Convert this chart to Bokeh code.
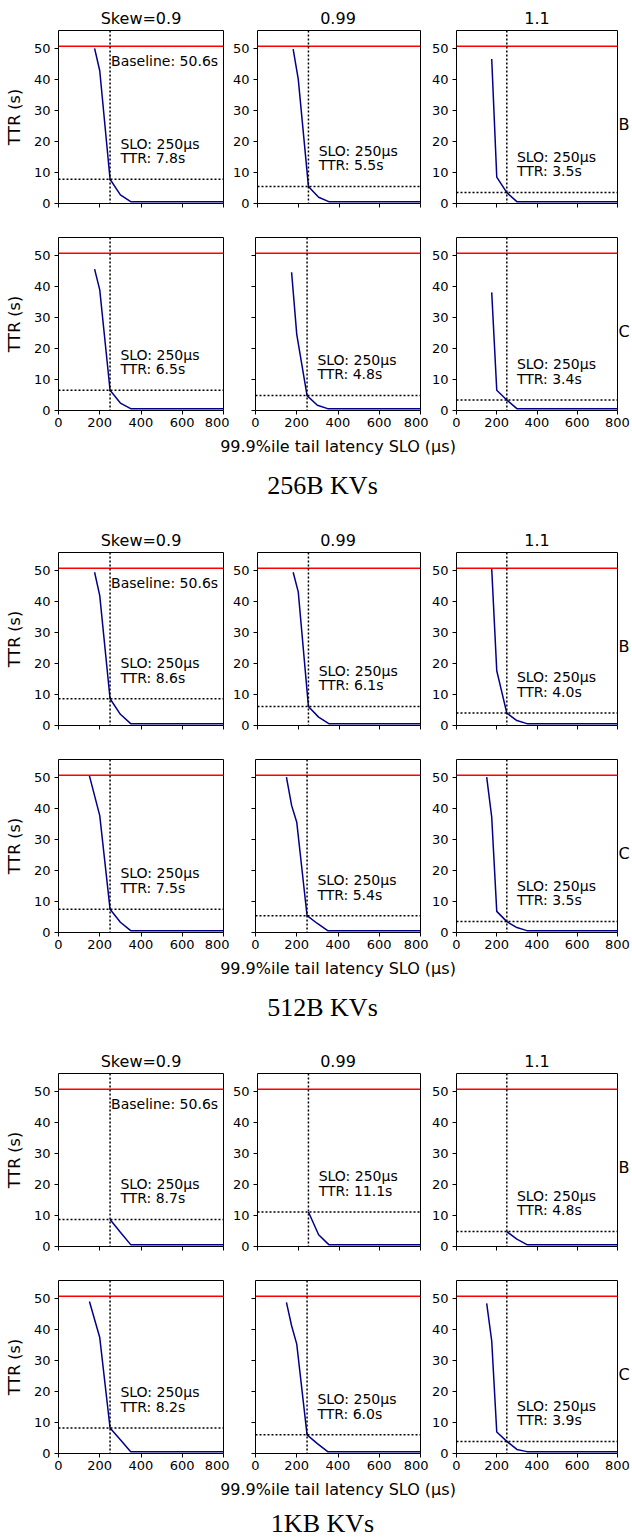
from bokeh.plotting import figure
from bokeh.layouts import column, row
from bokeh.models import Range1d, FixedTicker, Span, LinearAxis
from bokeh.core.properties import value
from bokeh.embed import file_html
from bokeh.resources import INLINE

# ---------------- data ----------------
skew_titles = ["Skew=0.9", "0.99", "1.1"]
workloads = ["B", "C"]
kv_captions = ["256B KVs", "512B KVs", "1KB KVs"]
slo_us = 250
baseline_s = 50.6
x_ticks = [0, 200, 400, 600, 800]
y_ticks = [0, 10, 20, 30, 40, 50]
x_label = "99.9%ile tail latency SLO (\u03bcs)"
y_label = "TTR (s)"

# 256B KVs
kv256_B_09_x = [175, 200, 250, 300, 350, 800]
kv256_B_09_y = [49.9, 42.7, 7.8, 2.8, 0.6, 0.6]
kv256_B_099_x = [175, 200, 250, 300, 350, 800]
kv256_B_099_y = [49.7, 40.0, 5.5, 2.0, 0.6, 0.6]
kv256_B_11_x = [175, 200, 250, 300, 800]
kv256_B_11_y = [46.5, 8.5, 3.5, 0.6, 0.6]
kv256_C_09_x = [175, 200, 250, 300, 350, 800]
kv256_C_09_y = [45.5, 38.8, 6.5, 2.4, 0.6, 0.6]
kv256_C_099_x = [175, 200, 250, 300, 350, 800]
kv256_C_099_y = [44.5, 24.5, 4.8, 1.7, 0.6, 0.6]
kv256_C_11_x = [175, 200, 250, 300, 800]
kv256_C_11_y = [38.0, 6.5, 3.4, 0.6, 0.6]
kv256_ttr_B = [7.8, 5.5, 3.5]
kv256_ttr_C = [6.5, 4.8, 3.4]

# 512B KVs
kv512_B_09_x = [175, 200, 250, 300, 350, 800]
kv512_B_09_y = [49.3, 41.8, 8.6, 3.6, 0.6, 0.6]
kv512_B_099_x = [175, 200, 250, 300, 350, 800]
kv512_B_099_y = [49.3, 43.0, 6.1, 2.7, 0.6, 0.6]
kv512_B_11_x = [175, 200, 250, 300, 350, 800]
kv512_B_11_y = [50.4, 17.6, 4.0, 1.6, 0.6, 0.6]
kv512_C_09_x = [150, 200, 250, 300, 350, 800]
kv512_C_09_y = [50.4, 37.6, 7.5, 3.3, 0.6, 0.6]
kv512_C_099_x = [150, 175, 200, 250, 300, 350, 800]
kv512_C_099_y = [50.0, 40.9, 35.5, 5.4, 2.9, 0.6, 0.6]
kv512_C_11_x = [150, 175, 200, 250, 300, 350, 800]
kv512_C_11_y = [50.0, 37.1, 6.8, 3.5, 1.6, 0.6, 0.6]
kv512_ttr_B = [8.6, 6.1, 4.0]
kv512_ttr_C = [7.5, 5.4, 3.5]

# 1KB KVs
kv1k_B_09_x = [250, 300, 350, 800]
kv1k_B_09_y = [8.7, 4.6, 0.6, 0.6]
kv1k_B_099_x = [250, 300, 350, 800]
kv1k_B_099_y = [11.1, 3.8, 0.6, 0.6]
kv1k_B_11_x = [250, 300, 350, 800]
kv1k_B_11_y = [4.8, 2.4, 0.6, 0.6]
kv1k_C_09_x = [150, 200, 250, 300, 350, 800]
kv1k_C_09_y = [48.9, 37.3, 8.2, 4.4, 0.6, 0.6]
kv1k_C_099_x = [150, 175, 200, 250, 300, 350, 800]
kv1k_C_099_y = [48.6, 41.1, 35.2, 6.0, 3.2, 0.6, 0.6]
kv1k_C_11_x = [150, 175, 200, 250, 300, 350, 800]
kv1k_C_11_y = [48.3, 36.2, 6.9, 3.9, 1.3, 0.6, 0.6]
kv1k_ttr_B = [8.7, 11.1, 4.8]
kv1k_ttr_C = [8.2, 6.0, 3.9]

groups = [
    {
        "B": [(kv256_B_09_x, kv256_B_09_y), (kv256_B_099_x, kv256_B_099_y), (kv256_B_11_x, kv256_B_11_y)],
        "C": [(kv256_C_09_x, kv256_C_09_y), (kv256_C_099_x, kv256_C_099_y), (kv256_C_11_x, kv256_C_11_y)],
        "ttrB": kv256_ttr_B, "ttrC": kv256_ttr_C,
    },
    {
        "B": [(kv512_B_09_x, kv512_B_09_y), (kv512_B_099_x, kv512_B_099_y), (kv512_B_11_x, kv512_B_11_y)],
        "C": [(kv512_C_09_x, kv512_C_09_y), (kv512_C_099_x, kv512_C_099_y), (kv512_C_11_x, kv512_C_11_y)],
        "ttrB": kv512_ttr_B, "ttrC": kv512_ttr_C,
    },
    {
        "B": [(kv1k_B_09_x, kv1k_B_09_y), (kv1k_B_099_x, kv1k_B_099_y), (kv1k_B_11_x, kv1k_B_11_y)],
        "C": [(kv1k_C_09_x, kv1k_C_09_y), (kv1k_C_099_x, kv1k_C_099_y), (kv1k_C_11_x, kv1k_C_11_y)],
        "ttrB": kv1k_ttr_B, "ttrC": kv1k_ttr_C,
    },
]

# ---------------- styling / layout ----------------
FONT = "DejaVu Sans"
YMAX = 55.66
FRAME_W = 165
FRAME_H = 173
col_left = [58, 26, 26]
col_right = [6, 8, 13]
row_top = {"B": 2, "C": 4}
row_bottom = {"B": 30, "C": 24}
HEADER_H = 28
FOOTER_H = [88, 87, 61]
TOTAL_W = sum(col_left) + sum(col_right) + 3 * FRAME_W
ROW_LABEL_Y = 25.5

# x centres of the three frames in layout pixels
col_centers = []
_acc = 0
for _ci in range(3):
    col_centers.append(_acc + col_left[_ci] + FRAME_W / 2)
    _acc += col_left[_ci] + FRAME_W + col_right[_ci]


def style_axis(ax):
    ax.axis_line_color = None
    ax.major_tick_out = 4
    ax.major_tick_in = 0
    ax.major_tick_line_color = "black"
    ax.major_tick_line_width = 1
    ax.minor_tick_line_color = None
    ax.major_label_text_font = FONT
    ax.major_label_text_font_size = "13px"
    ax.major_label_text_color = "black"
    ax.major_label_standoff = 4
    ax.axis_label_text_font = FONT
    ax.axis_label_text_font_size = "16px"
    ax.axis_label_text_font_style = "normal"
    ax.axis_label_text_color = "black"


def panel(wl, ci, xs, ys, ttr):
    w = col_left[ci] + FRAME_W + col_right[ci]
    h = row_top[wl] + FRAME_H + row_bottom[wl]
    p = figure(width=w, height=h, x_range=Range1d(0, 800), y_range=Range1d(0, YMAX),
               output_backend="svg", toolbar_location=None,
               min_border_left=col_left[ci], min_border_right=col_right[ci],
               min_border_top=row_top[wl], min_border_bottom=row_bottom[wl])
    p.grid.visible = False
    p.outline_line_color = "black"
    p.outline_line_width = 1
    p.outline_line_alpha = 1
    style_axis(p.xaxis[0])
    style_axis(p.yaxis[0])
    p.xaxis.ticker = FixedTicker(ticks=x_ticks)
    p.yaxis.ticker = FixedTicker(ticks=y_ticks)
    p.xaxis.major_label_standoff = 3

    if wl == "B":
        p.xaxis.major_label_overrides = {t: "" for t in x_ticks}
    if wl == "C" and ci == 1:
        p.yaxis.major_label_overrides = {t: "" for t in y_ticks}
    if ci == 0:
        p.yaxis.axis_label = y_label
        p.yaxis.axis_label_standoff = 7
    if ci == 2:
        # row name (workload) shown at the right edge as a single tick label
        rax = LinearAxis(ticker=FixedTicker(ticks=[ROW_LABEL_Y]),
                         major_label_overrides={ROW_LABEL_Y: wl})
        rax.axis_line_color = None
        rax.major_tick_line_color = None
        rax.minor_tick_line_color = None
        rax.major_tick_out = 0
        rax.major_tick_in = 0
        rax.major_label_standoff = 1
        rax.major_label_text_font = FONT
        rax.major_label_text_font_size = "16px"
        rax.major_label_text_color = "black"
        p.add_layout(rax, "right")

    dot = dict(line_color="black", line_dash="2 2", line_width=1.5)
    p.add_layout(Span(location=baseline_s, dimension="width", line_color="red", line_width=1.5))
    p.add_layout(Span(location=slo_us, dimension="height", **dot))
    p.add_layout(Span(location=ttr, dimension="width", **dot))
    p.line(xs, ys, line_color="darkblue", line_width=1.5)

    tkw = dict(text_font=value(FONT), text_font_size="14px", text_color="black",
               text_align="left", text_baseline="middle")
    p.text(x=[slo_us + 50], y=[ttr + 6.8], text=[f"TTR: {ttr}s"], **tkw)
    p.text(x=[slo_us + 50], y=[ttr + 11.5], text=[f"SLO: {slo_us}\u03bcs"], **tkw)
    if wl == "B" and ci == 0:
        p.text(x=[slo_us + 5], y=[baseline_s - 4.7], text=[f"Baseline: {baseline_s}s"], **tkw)
    return p


def strip(h):
    p = figure(width=TOTAL_W, height=h, x_range=Range1d(0, TOTAL_W), y_range=Range1d(0, h),
               output_backend="svg", toolbar_location=None, min_border=0,
               x_axis_type=None, y_axis_type=None)
    p.outline_line_color = None
    return p


def header():
    p = strip(HEADER_H)
    p.text(x=col_centers, y=[HEADER_H - 17.5] * 3, text=skew_titles, text_font=value(FONT),
           text_font_size="16px", text_color="black", text_align="center",
           text_baseline="middle")
    return p


def footer(caption, h, cap_y):
    p = strip(h)
    p.text(x=[col_centers[1]], y=[h - 12], text=[x_label], text_font=value(FONT),
           text_font_size="16px", text_color="black", text_align="center",
           text_baseline="middle")
    p.text(x=[322], y=[cap_y], text=[caption], text_font=value("Liberation Serif"),
           text_font_size="26px", text_color="black", text_align="center",
           text_baseline="middle")
    return p


children = []
for gi, g in enumerate(groups):
    children.append(header())
    for wl in workloads:
        figs = []
        for ci in range(3):
            xs, ys = g[wl][ci]
            figs.append(panel(wl, ci, xs, ys, g["ttr" + wl][ci]))
        children.append(row(*figs))
    fh = FOOTER_H[gi]
    if gi < 2:
        children.append(footer(kv_captions[gi], fh, fh - 50.5))
    else:
        children.append(footer(kv_captions[gi], fh, 15))

layout = column(*children)
open("out.html", "w").write(file_html(layout, INLINE))
